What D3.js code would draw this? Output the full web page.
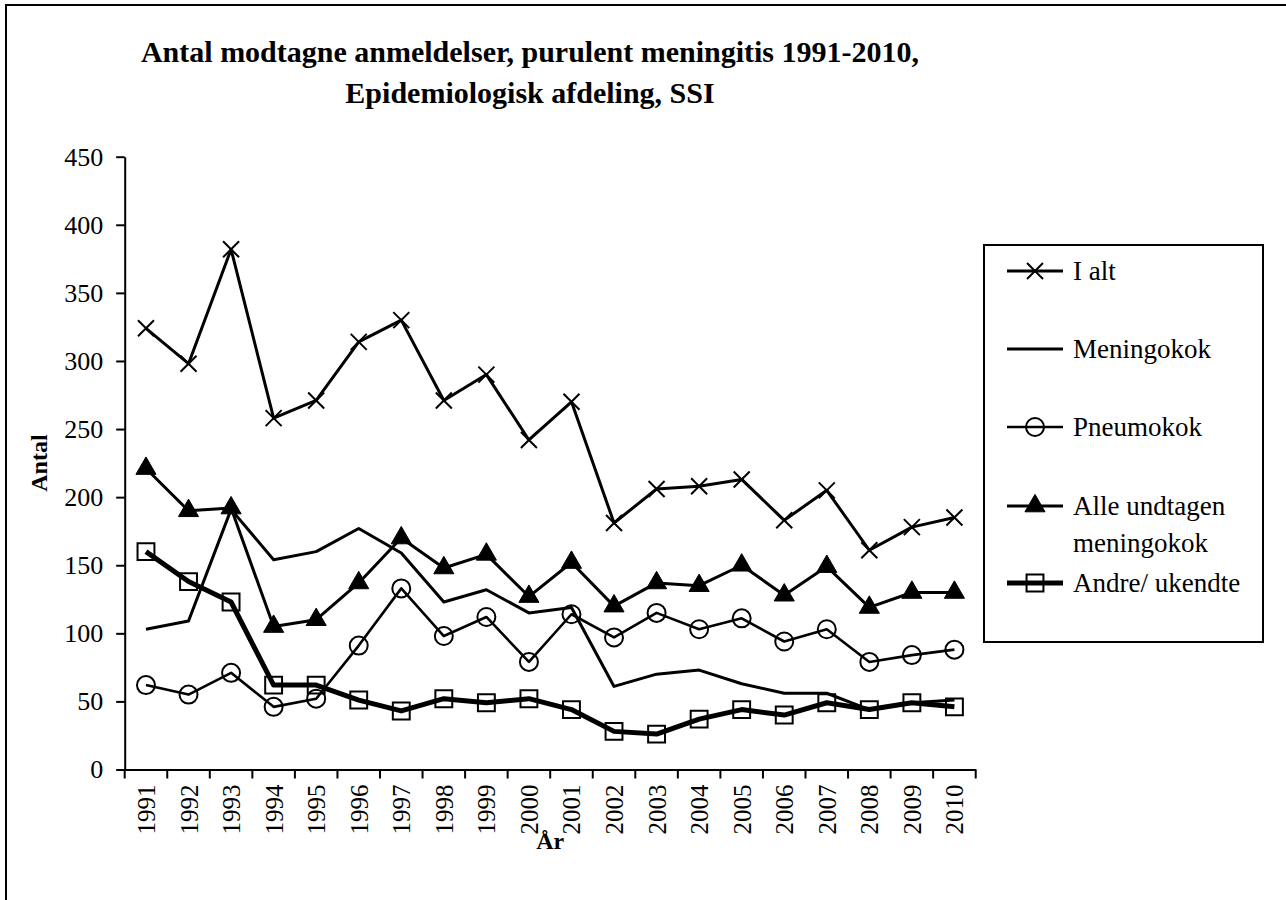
<!DOCTYPE html>
<html>
<head>
<meta charset="utf-8">
<script src="https://cdn.jsdelivr.net/npm/d3@7"></script>
<style>
  html, body { margin: 0; padding: 0; background: #fff; }
  svg { display: block; }
  svg text { font-family: 'Liberation Serif', 'Times New Roman', Times, 'DejaVu Serif', serif; }
</style>
</head>
<body>
<svg id="chart" width="1286" height="900"></svg>
<script>
  /* ---- Data ---- */
  const YEARS = ['1991','1992','1993','1994','1995','1996','1997','1998','1999','2000',
                 '2001','2002','2003','2004','2005','2006','2007','2008','2009','2010'];
  const Y_TICKS = [0, 50, 100, 150, 200, 250, 300, 350, 400, 450];

  const I_ALT      = [324, 298, 382, 258, 271, 314, 330, 271, 290, 242, 270, 181, 206, 208, 213, 183, 205, 161, 178, 185];
  const MENINGOKOK = [103, 109, 191, 154, 160, 177, 159, 123, 132, 115, 119, 61, 70, 73, 63, 56, 56, 44, 49, 51];
  const PNEUMOKOK  = [62, 55, 71, 46, 52, 91, 133, 98, 112, 79, 114, 97, 115, 103, 111, 94, 103, 79, 84, 88];
  const ALLE_UNDT  = [221, 190, 192, 105, 110, 137, 170, 148, 158, 127, 152, 120, 137, 135, 150, 128, 149, 119, 130, 130];
  const ANDRE      = [160, 138, 123, 62, 62, 51, 43, 52, 49, 52, 44, 28, 26, 37, 44, 40, 49, 44, 49, 46];

  const SERIES = [
    { name: 'I alt',       values: I_ALT,      marker: 'x',        width: 3 },
    { name: 'Meningokok',  values: MENINGOKOK, marker: null,       width: 3 },
    { name: 'Pneumokok',   values: PNEUMOKOK,  marker: 'circle',   width: 2.6 },
    { name: 'Alle undtagen meningokok', lines: ['Alle undtagen', 'meningokok'],
                           values: ALLE_UNDT,  marker: 'triangle', width: 3 },
    { name: 'Andre/ ukendte', values: ANDRE,   marker: 'square',   width: 5 },
  ];

  const FONT = "'Liberation Serif', 'Times New Roman', Times, 'DejaVu Serif', serif";

  /* ---- Layout ---- */
  const svg = d3.select('#chart');
  const plot = { left: 124.7, right: 975.7, top: 156.7, bottom: 769.5 };

  const x = d3.scaleBand().domain(YEARS).range([plot.left, plot.right]).padding(0);
  const y = d3.scaleLinear().domain([0, 450]).range([plot.bottom, plot.top]);
  const cx = d => x(d) + x.bandwidth() / 2;

  // outer frame (right and bottom sides run past the page)
  svg.append('rect')
    .attr('x', 6).attr('y', 5).attr('width', 1300).attr('height', 920)
    .attr('fill', 'none').attr('stroke', '#000').attr('stroke-width', 2);

  /* ---- Title ---- */
  const title = svg.append('text')
    .attr('text-anchor', 'middle')
    .attr('font-family', FONT)
    .attr('font-size', 30).attr('font-weight', 'bold');
  title.append('tspan').attr('x', 530).attr('y', 62)
    .text('Antal modtagne anmeldelser, purulent meningitis 1991-2010,');
  title.append('tspan').attr('x', 530).attr('y', 103)
    .text('Epidemiologisk afdeling, SSI');

  /* ---- Axes ---- */
  const yAxis = svg.append('g')
    .attr('transform', `translate(${plot.left},0)`)
    .call(d3.axisLeft(y).tickValues(Y_TICKS).tickSize(8.5).tickPadding(13).tickSizeOuter(0));
  yAxis.attr('font-family', FONT).attr('font-size', 26);
  yAxis.select('.domain').attr('stroke-width', 2);
  yAxis.selectAll('.tick line').attr('stroke-width', 2);
  yAxis.selectAll('.tick text').attr('fill', '#000');

  const xAxis = svg.append('g')
    .attr('transform', `translate(0,${plot.bottom})`)
    .call(d3.axisBottom(x).tickSize(0).tickPadding(0).tickSizeOuter(0));
  xAxis.attr('font-family', FONT).attr('font-size', 25);
  xAxis.select('.domain').attr('stroke-width', 2);
  xAxis.selectAll('.tick text')
    .attr('fill', '#000')
    .attr('text-anchor', 'end')
    .attr('dy', null)
    .attr('transform', 'translate(0,15) rotate(-90)')
    .attr('x', 0).attr('y', 9);

  // category boundary ticks
  const edges = YEARS.map(d => x(d)).concat([plot.right]);
  svg.append('g').selectAll('line')
    .data(edges)
    .join('line')
      .attr('x1', d => d).attr('x2', d => d)
      .attr('y1', plot.bottom).attr('y2', plot.bottom + 9)
      .attr('stroke', '#000').attr('stroke-width', 2);

  svg.append('text')
    .attr('transform', `translate(47,${(plot.top + plot.bottom) / 2}) rotate(-90)`)
    .attr('text-anchor', 'middle')
    .attr('font-family', FONT)
    .attr('font-size', 24).attr('font-weight', 'bold')
    .text('Antal');

  svg.append('text')
    .attr('x', (plot.left + plot.right) / 2).attr('y', 849)
    .attr('text-anchor', 'middle')
    .attr('font-family', FONT)
    .attr('font-size', 24).attr('font-weight', 'bold')
    .text('År');

  /* ---- Markers ---- */
  function drawMarker(g, type) {
    if (type === 'x') {
      g.append('path').attr('d', 'M-8,-8L8,8M-8,8L8,-8')
        .attr('stroke', '#000').attr('stroke-width', 2).attr('fill', 'none');
    } else if (type === 'circle') {
      g.append('path').attr('d', d3.symbol(d3.symbolCircle, 254)())
        .attr('stroke', '#000').attr('stroke-width', 2).attr('fill', 'none');
    } else if (type === 'triangle') {
      g.append('path').attr('d', d3.symbol(d3.symbolTriangle, 175)())
        .attr('fill', '#000').attr('stroke', '#000').attr('stroke-width', 1);
    } else if (type === 'square') {
      g.append('path').attr('d', d3.symbol(d3.symbolSquare, 285)())
        .attr('stroke', '#000').attr('stroke-width', 2).attr('fill', 'none');
    }
  }

  /* ---- Series ---- */
  const line = d3.line().x((v, i) => cx(YEARS[i])).y(v => y(v));

  SERIES.forEach(s => {
    const g = svg.append('g').attr('class', 'series');
    g.append('path')
      .attr('d', line(s.values))
      .attr('fill', 'none').attr('stroke', '#000')
      .attr('stroke-width', s.width).attr('stroke-linejoin', 'round');
    if (s.marker) {
      s.values.forEach((v, i) => {
        const m = g.append('g').attr('transform', `translate(${cx(YEARS[i])},${y(v)})`);
        drawMarker(m, s.marker);
      });
    }
  });

  /* ---- Legend ---- */
  const legend = svg.append('g');
  legend.append('rect')
    .attr('x', 984).attr('y', 245).attr('width', 279).attr('height', 397)
    .attr('fill', '#fff').attr('stroke', '#000').attr('stroke-width', 2);

  const LEGEND_ROWS = [271, 349, 427, 506, 583];
  SERIES.forEach((s, i) => {
    const ry = LEGEND_ROWS[i];
    legend.append('line')
      .attr('x1', 1007).attr('x2', 1063).attr('y1', ry).attr('y2', ry)
      .attr('stroke', '#000').attr('stroke-width', s.width);
    if (s.marker) {
      const m = legend.append('g').attr('transform', `translate(1035,${ry})`);
      drawMarker(m, s.marker);
    }
    const t = legend.append('text')
      .attr('font-family', FONT).attr('font-size', 27).attr('fill', '#000');
    (s.lines || [s.name]).forEach((txt, k) => {
      t.append('tspan').attr('x', 1073).attr('y', ry + 9 + k * 37).text(txt);
    });
  });
</script>
</body>
</html>
